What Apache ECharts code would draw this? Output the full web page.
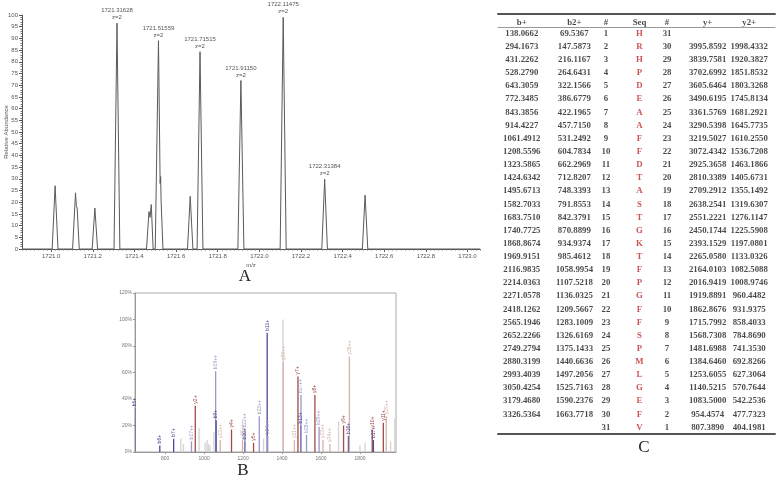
<!DOCTYPE html>
<html>
<head>
<meta charset="utf-8">
<script src="https://cdn.jsdelivr.net/npm/echarts@6/dist/echarts.min.js"></script>
<style>
  html, body { margin: 0; padding: 0; background: #fff; }
  #chart { width: 778px; height: 478px; }
</style>
</head>
<body>
<div id="chart"></div>
<script>
// ---- A: isotope envelope, profile points [m/z, rel. abundance]
const profile = [
  [1720.86, 0],
  [1721.005, 0], [1721.019, 27], [1721.033, 0],
  [1721.103, 0], [1721.117, 24], [1721.121, 18.5], [1721.125, 17.5], [1721.135, 0],
  [1721.197, 0], [1721.210, 17.5], [1721.223, 0],
  [1721.302, 0], [1721.31628, 96.5], [1721.330, 0],
  [1721.458, 0], [1721.470, 16], [1721.475, 13.5], [1721.481, 19], [1721.490, 0],
  [1721.500, 0], [1721.51559, 89], [1721.5235, 28], [1721.526, 31], [1721.528, 21], [1721.537, 0],
  [1721.655, 0], [1721.668, 22.5], [1721.681, 0],
  [1721.701, 0], [1721.71515, 84.3], [1721.729, 0],
  [1721.897, 0], [1721.91150, 72], [1721.926, 0],
  [1722.100, 0], [1722.11475, 99], [1722.129, 0],
  [1722.300, 0], [1722.31384, 29.8], [1722.327, 0],
  [1722.495, 0], [1722.508, 23], [1722.521, 0],
  [1723.06, 0]
];
const labelledMz = [1721.31628, 1721.51559, 1721.71515, 1721.91150, 1722.11475, 1722.31384];
const mzTicks = [1721.0, 1721.2, 1721.4, 1721.6, 1721.8, 1722.0, 1722.2, 1722.4, 1722.6, 1722.8, 1723.0];

// ---- B: annotated MS/MS sticks
const stickMz = [643.3, 772.3, 843.4, 880, 894, 934.9, 954.5, 974, 1005, 1015, 1022, 1030, 1050,
  1059.0, 1061.5, 1082.5, 1140.5, 1197.1, 1208.6, 1209.6, 1253.6, 1283.1, 1305, 1323.6, 1326.6,
  1405, 1405.7, 1463.2, 1481.7, 1495.7, 1497.2, 1525.7, 1568.7, 1590.2, 1610.3, 1645.8, 1690,
  1715.8, 1740.8, 1745.8, 1800, 1826, 1862.9, 1868.9, 1919.9, 1935, 1957, 1979];
const stickInt = [33, 5, 10, 10, 6, 8, 35, 18, 7, 9, 6, 5, 15,
  61, 24, 9, 17, 9, 8, 17, 7, 27, 10, 90, 12,
  100, 68, 9, 57, 20, 43, 13, 43, 19, 9, 6, 23,
  20, 12, 72, 5, 7, 17, 9, 22, 27, 8, 25];
const stickLabel = ['b5+', 'b6+', 'b7+', '', '', 'b17++', 'y2+', '', '', '', '', '', '',
  'b19++', 'b9+', 'y13++', 'y4+', 'y15++', 'b10+', 'b22++', 'y5+', 'b23++', '', 'b11+', 'b24++',
  '', 'y20++', 'y21++', 'y7+', 'b13+', 'b27++', 'b28++', 'y8+', 'b29++', 'y23++', 'y24++', '',
  'y9+', 'b16+', 'y26++', '', '', 'y10+', 'b17+', 'y11+', 'y29++', '', ''];
const stickType = ['b', 'b', 'b', 'n', 'n', 'b2', 'y', 'n', 'n', 'n', 'n', 'n', 'n',
  'b2', 'b', 'y2', 'y', 'y2', 'b', 'b2', 'y', 'b2', 'n', 'b', 'b2',
  'n', 'y2', 'y2', 'y', 'b', 'b2', 'b2', 'y', 'b2', 'y2', 'y2', 'n',
  'y', 'b', 'y2', 'n', 'n', 'y', 'b', 'y', 'y2', 'n', 'n'];
const msmsTicks = [800, 1000, 1200, 1400, 1600, 1800];

// ---- C: fragment table
const headers = ['b+', 'b2+', '#', 'Seq', '#', 'y+', 'y2+'];
const bIon = ['138.0662', '294.1673', '431.2262', '528.2790', '643.3059', '772.3485', '843.3856',
  '914.4227', '1061.4912', '1208.5596', '1323.5865', '1424.6342', '1495.6713', '1582.7033',
  '1683.7510', '1740.7725', '1868.8674', '1969.9151', '2116.9835', '2214.0363', '2271.0578',
  '2418.1262', '2565.1946', '2652.2266', '2749.2794', '2880.3199', '2993.4039', '3050.4254',
  '3179.4680', '3326.5364', ''];
const b2Ion = ['69.5367', '147.5873', '216.1167', '264.6431', '322.1566', '386.6779', '422.1965',
  '457.7150', '531.2492', '604.7834', '662.2969', '712.8207', '748.3393', '791.8553',
  '842.3791', '870.8899', '934.9374', '985.4612', '1058.9954', '1107.5218', '1136.0325',
  '1209.5667', '1283.1009', '1326.6169', '1375.1433', '1440.6636', '1497.2056', '1525.7163',
  '1590.2376', '1663.7718', ''];
const fwdNo = ['1', '2', '3', '4', '5', '6', '7', '8', '9', '10', '11', '12', '13', '14', '15', '16',
  '17', '18', '19', '20', '21', '22', '23', '24', '25', '26', '27', '28', '29', '30', '31'];
const seq = ['H', 'R', 'H', 'P', 'D', 'E', 'A', 'A', 'F', 'F', 'D', 'T', 'A', 'S', 'T', 'G',
  'K', 'T', 'F', 'P', 'G', 'F', 'F', 'S', 'P', 'M', 'L', 'G', 'E', 'F', 'V'];
const revNo = ['31', '30', '29', '28', '27', '26', '25', '24', '23', '22', '21', '20', '19', '18', '17', '16',
  '15', '14', '13', '12', '11', '10', '9', '8', '7', '6', '5', '4', '3', '2', '1'];
const yIon = ['', '3995.8592', '3839.7581', '3702.6992', '3605.6464', '3490.6195', '3361.5769',
  '3290.5398', '3219.5027', '3072.4342', '2925.3658', '2810.3389', '2709.2912', '2638.2541',
  '2551.2221', '2450.1744', '2393.1529', '2265.0580', '2164.0103', '2016.9419', '1919.8891',
  '1862.8676', '1715.7992', '1568.7308', '1481.6988', '1384.6460', '1253.6055', '1140.5215',
  '1083.5000', '954.4574', '807.3890'];
const y2Ion = ['', '1998.4332', '1920.3827', '1851.8532', '1803.3268', '1745.8134', '1681.2921',
  '1645.7735', '1610.2550', '1536.7208', '1463.1866', '1405.6731', '1355.1492', '1319.6307',
  '1276.1147', '1225.5908', '1197.0801', '1133.0326', '1082.5088', '1008.9746', '960.4482',
  '931.9375', '858.4033', '784.8690', '741.3530', '692.8266', '627.3064', '570.7644',
  '542.2536', '477.7323', '404.1981'];

const sans = 'Liberation Sans';
const serif = 'Liberation Serif';
const stickColors = { b: '#4a4a96', b2: '#9a98c6', y: '#a24a44', y2: '#d6b2aa', n: '#d4d2d2' };
const colShift = [4, 17, 9, 3, -9, -8, -6];

const chart = echarts.init(document.getElementById('chart'));

const profileData = profile.map(p => labelledMz.includes(p[0])
  ? { value: p, label: { show: true } }
  : p);

const stickData = stickMz.map((mz, i) => ({
  value: [mz, stickInt[i]],
  itemStyle: { color: stickColors[stickType[i]] },
  label: { show: stickLabel[i] !== '', formatter: stickLabel[i], color: stickColors[stickType[i]] }
}));

const headerData = headers.map((h, i) => ({
  value: [i, 0],
  label: { formatter: h, offset: [colShift[i], 2] }
}));

const tableCols = [bIon, b2Ion, fwdNo, seq, revNo, yIon, y2Ion];
const bodyData = [];
tableCols.forEach((col, c) => {
  col.forEach((txt, r) => {
    if (txt === '') return;
    bodyData.push({
      value: [c, r],
      label: { formatter: txt, offset: [colShift[c], 0], color: c === 3 ? '#c0282c' : '#1a1a1a' }
    });
  });
});

chart.setOption({
  animation: false,
  backgroundColor: '#fff',
  grid: [
    { left: 22, top: 15, width: 458, height: 234, outerBoundsMode: 'none' },
    { left: 135, top: 293, width: 261, height: 159, outerBoundsMode: 'none',
      show: true, borderColor: '#aaa', borderWidth: 1, backgroundColor: 'transparent' },
    { left: 498, top: 13.5, width: 277, height: 13.5, outerBoundsMode: 'none' },
    { left: 498, top: 27, width: 277, height: 407, outerBoundsMode: 'none' }
  ],
  xAxis: [
    {
      gridIndex: 0, type: 'value', min: 1720.86, max: 1723.06, position: 'bottom',
      name: 'm/z', nameLocation: 'middle', nameGap: 13,
      nameTextStyle: { fontFamily: sans, fontSize: 6, color: '#555' },
      axisLine: { lineStyle: { color: '#555', width: 1 } },
      axisTick: { customValues: mzTicks, length: 3, lineStyle: { color: '#555' } },
      axisLabel: { customValues: mzTicks, formatter: v => v.toFixed(1), fontFamily: sans, fontSize: 6, color: '#555', margin: 4 },
      splitLine: { show: false }
    },
    {
      gridIndex: 0, type: 'value', min: 1720.86, max: 1723.06, interval: 0.02,
      position: 'bottom', offset: 0,
      axisLine: { show: false },
      axisTick: { length: 1.5, lineStyle: { color: '#777' } },
      axisLabel: { show: false },
      splitLine: { show: false }
    },
    {
      gridIndex: 1, type: 'value', min: 645, max: 1985,
      axisLine: { lineStyle: { color: '#999' } },
      axisTick: { customValues: msmsTicks, length: 2, lineStyle: { color: '#999' } },
      axisLabel: { customValues: msmsTicks, formatter: v => String(v), fontFamily: sans, fontSize: 5, color: '#777', margin: 4 },
      splitLine: { show: false }
    },
    {
      gridIndex: 2, type: 'category', data: headers.map((h, i) => i), position: 'top',
      axisLine: { lineStyle: { color: '#555', width: 2 } },
      axisTick: { show: false }, axisLabel: { show: false }
    },
    {
      gridIndex: 2, type: 'category', data: headers.map((h, i) => i), position: 'bottom',
      axisLine: { lineStyle: { color: '#999', width: 1 } },
      axisTick: { show: false }, axisLabel: { show: false }
    },
    {
      gridIndex: 3, type: 'category', data: headers.map((h, i) => i), position: 'bottom',
      axisLine: { lineStyle: { color: '#555', width: 2 } },
      axisTick: { show: false }, axisLabel: { show: false }
    }
  ],
  yAxis: [
    {
      gridIndex: 0, type: 'value', min: 0, max: 100, interval: 5,
      axisLine: { show: true, lineStyle: { color: '#555' } },
      axisTick: { show: true, length: 3, lineStyle: { color: '#555' } },
      minorTick: { show: true, splitNumber: 5, length: 1.5, lineStyle: { color: '#777' } },
      axisLabel: { fontFamily: sans, fontSize: 6, color: '#555', margin: 4 },
      splitLine: { show: false }
    },
    {
      gridIndex: 1, type: 'value', min: 0, max: 120, interval: 20,
      axisLine: { show: true, lineStyle: { color: '#999' } },
      axisTick: { show: true, length: 2, lineStyle: { color: '#999' } },
      axisLabel: { formatter: '{value}%', fontFamily: sans, fontSize: 5, color: '#777', margin: 3 },
      splitLine: { show: false }
    },
    {
      gridIndex: 2, type: 'category', data: ['h'], show: false
    },
    {
      gridIndex: 3, type: 'category', data: fwdNo, inverse: true, show: false
    }
  ],
  series: [
    {
      type: 'line', xAxisIndex: 0, yAxisIndex: 0,
      data: profileData,
      showSymbol: true, symbolSize: 0,
      lineStyle: { color: '#5a5a5a', width: 1 },
      itemStyle: { color: '#5a5a5a' },
      label: {
        show: false, position: 'top', distance: 2,
        fontFamily: sans, fontSize: 6, lineHeight: 7, color: '#555',
        formatter: p => p.value[0].toFixed(5) + '\nz=2'
      },
      silent: true
    },
    {
      type: 'bar', xAxisIndex: 2, yAxisIndex: 1,
      data: stickData,
      barWidth: 1.3,
      label: {
        position: 'top', rotate: 90, align: 'left', verticalAlign: 'middle', distance: 2,
        fontFamily: sans, fontSize: 5
      },
      silent: true
    },
    {
      type: 'scatter', xAxisIndex: 3, yAxisIndex: 2,
      data: headerData,
      symbolSize: 0,
      label: {
        show: true, position: 'inside',
        fontFamily: serif, fontWeight: 'bold', fontSize: 8.8, color: '#1a1a1a'
      },
      silent: true
    },
    {
      type: 'scatter', xAxisIndex: 5, yAxisIndex: 3,
      data: bodyData,
      symbolSize: 0,
      label: {
        show: true, position: 'inside',
        fontFamily: serif, fontWeight: 'bold', fontSize: 8.8
      },
      silent: true
    }
  ],
  graphic: [
    { type: 'text', x: 6, y: 132, rotation: Math.PI / 2,
      style: { text: 'Relative Abundance', font: '6px "Liberation Sans"', fill: '#555', textAlign: 'center', textVerticalAlign: 'middle' } },
    { type: 'text', x: 245, y: 277, style: { text: 'A', font: '17px "Liberation Serif"', fill: '#222', textAlign: 'center', textVerticalAlign: 'middle' } },
    { type: 'text', x: 243, y: 471, style: { text: 'B', font: '17px "Liberation Serif"', fill: '#222', textAlign: 'center', textVerticalAlign: 'middle' } },
    { type: 'text', x: 644, y: 448, style: { text: 'C', font: '17px "Liberation Serif"', fill: '#222', textAlign: 'center', textVerticalAlign: 'middle' } }
  ]
});
</script>
</body>
</html>
